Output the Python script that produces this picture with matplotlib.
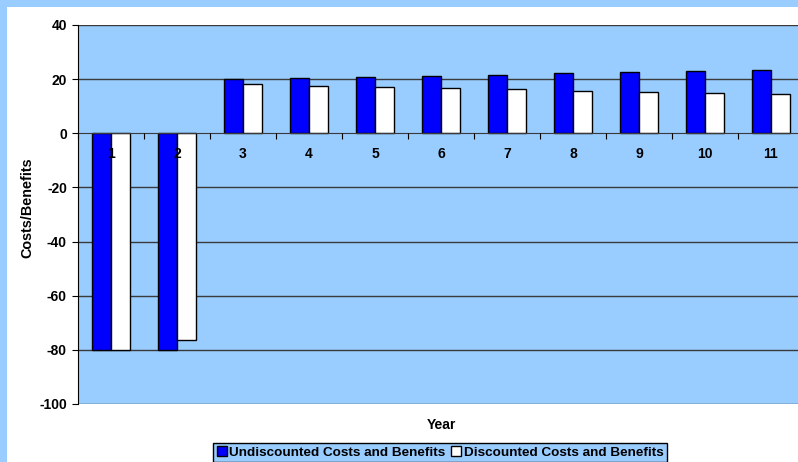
import matplotlib
matplotlib.use("Agg")
import matplotlib.pyplot as plt
from matplotlib.patches import Rectangle, Patch
import numpy as np

years = [1, 2, 3, 4, 5, 6, 7, 8, 9, 10, 11]
undiscounted = [-80, -80, 20.0, 20.4, 20.8, 21.2, 21.6, 22.1, 22.5, 23.0, 23.4]
discounted = [-80, -76.2, 18.1, 17.6, 17.1, 16.7, 16.2, 15.7, 15.3, 14.8, 14.4]
yticks = [-100, -80, -60, -40, -20, 0, 20, 40]
series_names = ["Undiscounted Costs and Benefits", "Discounted Costs and Benefits"]

plt.rcParams['font.family'] = ['Liberation Sans', 'DejaVu Sans']
plt.rcParams['font.weight'] = 'bold'

FS = 10
W, H = 798, 462
fig = plt.figure(figsize=(W / 100, H / 100), dpi=100)
fig.patch.set_facecolor('#99CCFF')
fig.patches.append(Rectangle((7 / W, 0), 1, 1 - 7 / H, transform=fig.transFigure,
                             facecolor='white', edgecolor='none', zorder=0))

ax = fig.add_axes([78 / W, 58 / H, 726 / W, 379 / H])
ax.set_zorder(2)
ax.set_facecolor('#99CCFF')

x = np.arange(len(years))
bw = 0.285
ax.bar(x - bw / 2, undiscounted, bw, color='#0000FF', edgecolor='black', linewidth=1, zorder=2)
ax.bar(x + bw / 2, discounted, bw, color='white', edgecolor='black', linewidth=1, zorder=2)

for yv in yticks:
    if yv != 0:
        ax.axhline(yv, color='#3a3a3a', linewidth=1, zorder=0.5)

ax.set_xlim(-0.5, len(years) - 0.5)
ax.set_ylim(-100, 40)
ax.set_yticks(yticks)
ax.set_yticklabels([str(v) for v in yticks], fontsize=FS, fontweight='bold')
ax.set_xticks(np.arange(len(years) + 1) - 0.5, minor=False)
ax.set_xticklabels([])
ax.set_xticks(x, minor=True)
ax.set_xticklabels([str(y) for y in years], minor=True, fontsize=FS, fontweight='bold')
ax.tick_params(axis='x', which='major', length=4, direction='out', color='black')
ax.tick_params(axis='x', which='minor', length=0, pad=10)
ax.tick_params(axis='y', length=4, direction='out', pad=4)

ax.spines['top'].set_visible(False)
ax.spines['right'].set_visible(False)
ax.spines['bottom'].set_position(('data', 0))
ax.spines['bottom'].set_color('#3a3a3a')
ax.spines['left'].set_color('black')
ax.set_axisbelow(False)

ax.text((27 - 78) / 726, (462 - 207.5 - 58) / 379, 'Costs/Benefits', transform=ax.transAxes,
        rotation=90, ha='center', va='center', fontsize=10.4, fontweight='bold')
ax.text((441 - 78) / 726, (462 - 425 - 58) / 379, 'Year', transform=ax.transAxes,
        ha='center', va='center', fontsize=FS, fontweight='bold')

handles = [Patch(facecolor='#0000FF', edgecolor='black'), Patch(facecolor='white', edgecolor='black')]
leg = fig.legend(handles, series_names, loc='upper center', bbox_to_anchor=(440 / W, 1 - 443 / H),
                 ncol=2, frameon=True, fancybox=False, edgecolor='black', facecolor='#99CCFF',
                 framealpha=1, fontsize=9.7, handlelength=0.75, handleheight=0.75, handletextpad=0.2,
                 columnspacing=0.4, borderpad=0.25, borderaxespad=0)
for t in leg.get_texts():
    t.set_fontweight('bold')
leg.get_frame().set_linewidth(1)

fig.savefig('out.png', dpi=100, facecolor=fig.get_facecolor())
